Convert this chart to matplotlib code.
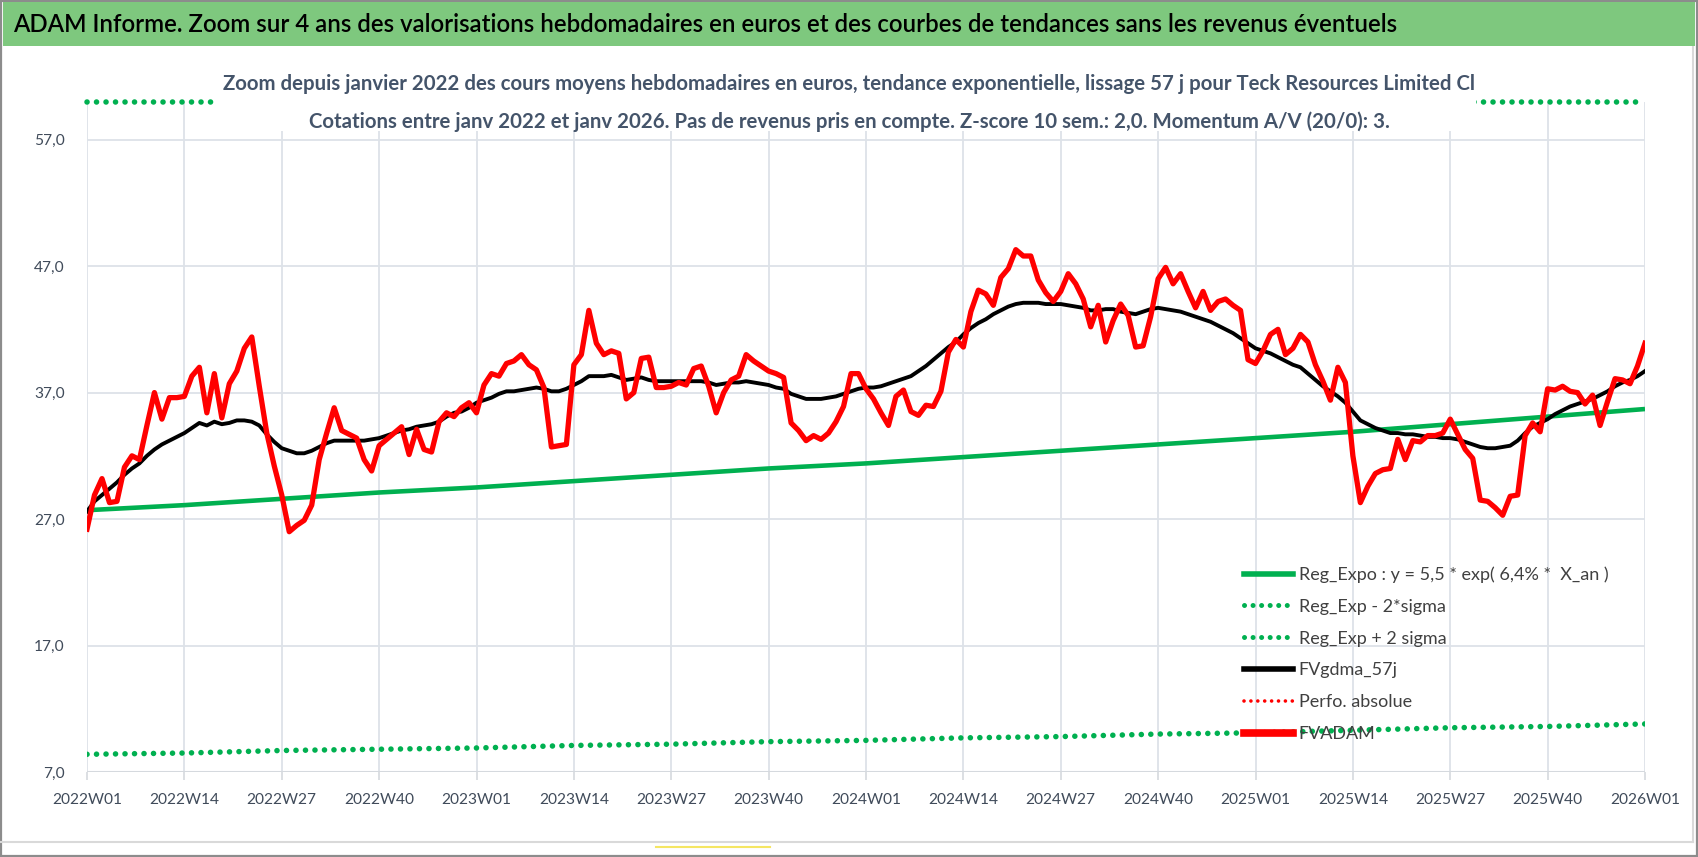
import matplotlib
matplotlib.use("Agg")
import matplotlib.pyplot as plt
from matplotlib.patches import Rectangle
from matplotlib.lines import Line2D
import numpy as np

plt.rcParams['font.family'] = ['Lato', 'DejaVu Sans']

# Données (semaines 2022W01 -> 2026W01)
fvadam = [26.2, 28.9, 30.2, 28.3, 28.4, 31.1, 32.0, 31.7, 34.4, 37.0,
          34.9, 36.6, 36.6, 36.7, 38.3, 39.0, 35.4, 38.5, 35.0, 37.7,
          38.7, 40.5, 41.4, 37.5, 33.8, 31.2, 28.9, 26.0, 26.5, 26.9,
          28.1, 31.7, 33.8, 35.8, 34.0, 33.7, 33.4, 31.7, 30.8, 32.8,
          33.3, 33.8, 34.3, 32.1, 34.1, 32.5, 32.3, 34.7, 35.4, 35.1,
          35.8, 36.2, 35.4, 37.6, 38.5, 38.3, 39.3, 39.5, 40.0, 39.2,
          38.8, 37.4, 32.7, 32.8, 32.9, 39.2, 40.0, 43.5, 40.9, 40.0,
          40.3, 40.1, 36.5, 37.0, 39.7, 39.8, 37.4, 37.4, 37.5, 37.8,
          37.6, 38.9, 39.1, 37.5, 35.4, 37.0, 38.0, 38.3, 40.0, 39.5,
          39.1, 38.7, 38.5, 38.2, 34.6, 34.0, 33.2, 33.6, 33.3, 33.8,
          34.7, 35.9, 38.5, 38.5, 37.3, 36.5, 35.4, 34.4, 36.7, 37.2,
          35.5, 35.2, 36.0, 35.9, 37.1, 40.2, 41.2, 40.6, 43.4, 45.1,
          44.8, 43.9, 46.1, 46.8, 48.3, 47.8, 47.8, 45.9, 44.9, 44.2,
          45.0, 46.4, 45.6, 44.4, 42.2, 43.9, 41.0, 42.7, 44.0, 43.1,
          40.6, 40.7, 43.0, 46.0, 46.9, 45.6, 46.4, 45.0, 43.7, 45.0,
          43.5, 44.2, 44.4, 43.9, 43.5, 39.6, 39.3, 40.3, 41.6, 42.0,
          40.0, 40.5, 41.6, 41.0, 39.2, 37.9, 36.4, 39.0, 37.8, 32.0,
          28.3, 29.6, 30.6, 30.9, 31.0, 33.3, 31.7, 33.2, 33.1, 33.6,
          33.6, 33.8, 34.9, 33.7, 32.5, 31.8, 28.5, 28.4, 27.9, 27.3,
          28.8, 28.9, 33.6, 34.6, 33.9, 37.3, 37.2, 37.5, 37.1, 37.0,
          36.1, 36.8, 34.4, 36.3, 38.1, 38.0, 37.7, 39.1, 40.9]

fvgdma_57j = [27.6, 28.4, 28.9, 29.4, 29.9, 30.5, 31.0, 31.4, 32.0, 32.5,
              32.9, 33.2, 33.5, 33.8, 34.2, 34.6, 34.4, 34.7, 34.5, 34.6,
              34.8, 34.8, 34.7, 34.4, 33.7, 33.1, 32.6, 32.4, 32.2, 32.2,
              32.4, 32.7, 33.0, 33.2, 33.2, 33.2, 33.2, 33.2, 33.3, 33.4,
              33.6, 33.8, 34.0, 34.1, 34.3, 34.4, 34.5, 34.7, 35.1, 35.4,
              35.5, 35.8, 36.2, 36.4, 36.6, 36.9, 37.1, 37.1, 37.2, 37.3,
              37.4, 37.3, 37.1, 37.1, 37.3, 37.6, 37.9, 38.3, 38.3, 38.3,
              38.4, 38.2, 38.0, 38.1, 38.2, 38.0, 37.9, 37.9, 37.9, 37.9,
              37.9, 37.9, 37.9, 37.8, 37.6, 37.7, 37.8, 37.8, 37.9, 37.8,
              37.7, 37.6, 37.4, 37.3, 36.9, 36.7, 36.5, 36.5, 36.5, 36.6,
              36.7, 36.9, 37.1, 37.3, 37.4, 37.4, 37.5, 37.7, 37.9, 38.1,
              38.3, 38.7, 39.1, 39.6, 40.1, 40.6, 41.0, 41.6, 42.1, 42.5,
              42.8, 43.2, 43.5, 43.8, 44.0, 44.1, 44.1, 44.1, 44.0, 44.0,
              44.0, 43.9, 43.8, 43.7, 43.5, 43.5, 43.6, 43.6, 43.4, 43.3,
              43.2, 43.4, 43.6, 43.7, 43.6, 43.5, 43.4, 43.2, 43.0, 42.8,
              42.6, 42.3, 42.0, 41.7, 41.3, 40.9, 40.5, 40.3, 40.1, 39.8,
              39.5, 39.2, 39.0, 38.5, 38.0, 37.5, 37.1, 36.7, 36.2, 35.5,
              34.8, 34.5, 34.2, 34.0, 33.8, 33.8, 33.7, 33.7, 33.6, 33.5,
              33.5, 33.4, 33.4, 33.3, 33.1, 32.9, 32.7, 32.6, 32.6, 32.7,
              32.8, 33.2, 33.8, 34.3, 34.6, 34.9, 35.3, 35.6, 35.9, 36.1,
              36.3, 36.5, 36.8, 37.1, 37.5, 37.8, 38.0, 38.3, 38.7]

# Régression exponentielle et bandes, lues aux semaines des étiquettes
tick_weeks = list(range(0, 209, 13))
reg_expo = [27.7, 28.1, 28.6, 29.1, 29.5, 30.0, 30.5, 31.0, 31.4,
            31.9, 32.4, 32.9, 33.4, 33.9, 34.5, 35.1, 35.7]
reg_moins_2s = [8.4, 8.5, 8.7, 8.8, 8.9, 9.1, 9.2, 9.4, 9.5,
                9.7, 9.8, 10.0, 10.1, 10.3, 10.5, 10.6, 10.8]
reg_plus_2s = [91, 93, 94, 96, 97, 99, 101, 102, 104,
               105, 107, 108, 110, 112, 113, 115, 118]

tick_labels = ['2022W01', '2022W14', '2022W27', '2022W40', '2023W01', '2023W14',
               '2023W27', '2023W40', '2024W01', '2024W14', '2024W27', '2024W40',
               '2025W01', '2025W14', '2025W27', '2025W40', '2026W01']
y_ticks = [7, 17, 27, 37, 47, 57]

titre = ('ADAM Informe. Zoom sur 4 ans des valorisations hebdomadaires en euros '
         'et des courbes de tendances sans les revenus éventuels')
sous_titre_1 = ('Zoom depuis janvier 2022 des cours moyens hebdomadaires en euros, tendance '
                'exponentielle, lissage 57 j pour Teck Resources Limited Cl')
sous_titre_2 = ('Cotations entre janv 2022 et janv 2026. Pas de revenus pris en compte. '
                'Z-score 10 sem.: 2,0. Momentum A/V (20/0): 3.')

W, H = 1698, 857
fig = plt.figure(figsize=(W / 100, H / 100), dpi=100)
renderer = fig.canvas.get_renderer()


def ajuste(txt, largeur):
    # règle la taille de police pour obtenir la largeur voulue (pixels)
    for _ in range(3):
        w = txt.get_window_extent(renderer).width
        txt.set_fontsize(txt.get_fontsize() * largeur / w)


ymin, ymax = 7, 60
ax = fig.add_axes([87 / W, 1 - 772 / H, (1645 - 87) / W, (772 - 101.7) / H])
semaines = np.arange(len(fvadam))
pointille = (0, (0.01, 1.7))

ax.plot(tick_weeks, reg_expo, color='#00b050', lw=3.3, solid_capstyle='butt', zorder=3)
ax.plot(tick_weeks, reg_moins_2s, color='#00b050', lw=4.0, ls=pointille,
        dash_capstyle='round', zorder=3)
ax.plot(tick_weeks, np.minimum(reg_plus_2s, ymax), color='#00b050', lw=4.0,
        ls=pointille, dash_capstyle='round', zorder=3, clip_on=False)
ax.plot(semaines, fvgdma_57j, color='black', lw=2.8, zorder=4)
ax.plot(semaines, fvadam, color='#ff0000', lw=3.8, zorder=5)

ax.set_xlim(0, 208)
ax.set_ylim(ymin, ymax)
ax.set_xticks(tick_weeks)
ax.set_xticklabels(tick_labels)
ax.set_yticks(y_ticks)
ax.set_yticklabels([f"{v:.1f}".replace('.', ',') for v in y_ticks])
ax.grid(True, color='#dde2e8', lw=1.3)
ax.set_axisbelow(True)
for s in ax.spines.values():
    s.set_visible(False)
ax.axhline(ymin, color='#d5d9de', lw=2.2, zorder=1)
ax.tick_params(axis='x', length=6, width=1.2, color='#d5d9de', pad=9,
               labelsize=13, labelcolor='#404b5a')
ax.tick_params(axis='y', length=0, pad=16, labelsize=13, labelcolor='#404b5a')
ajuste(ax.get_xticklabels()[0], 70)
taille_ticks = ax.get_xticklabels()[0].get_fontsize()
ax.tick_params(axis='both', labelsize=taille_ticks)

# Légende
handles = [
    Line2D([], [], color='#00b050', lw=4),
    Line2D([], [], color='#00b050', lw=3.6, ls=pointille, dash_capstyle='round'),
    Line2D([], [], color='#00b050', lw=3.6, ls=pointille, dash_capstyle='round'),
    Line2D([], [], color='black', lw=4),
    Line2D([], [], color='#ff0000', lw=2.6, ls=(0, (0.01, 1.9)), dash_capstyle='round'),
    Line2D([], [], color='#ff0000', lw=5.5),
]
labels = ['Reg_Expo : y = 5,5 * exp( 6,4% *  X_an )', 'Reg_Exp - 2*sigma',
          'Reg_Exp + 2 sigma', 'FVgdma_57j', 'Perfo. absolue', 'FVADAM']
t_test = fig.text(0, 0, labels[0], fontsize=13)
ajuste(t_test, 310)
taille_leg = t_test.get_fontsize()
t_test.remove()
fs_px = taille_leg * 100 / 72
leg = fig.legend(handles, labels, loc='upper left',
                 bbox_to_anchor=(1230 / W, 1 - 552 / H), frameon=False,
                 fontsize=taille_leg, handlelength=49 / fs_px,
                 handletextpad=0.3, labelspacing=0.88, borderpad=0.3)
for t in leg.get_texts():
    t.set_color('#404040')
leg.set_zorder(6)

# Bandeau de titre
fig.patches.append(Rectangle((3 / W, 1 - 46 / H), (W - 6) / W, 44 / H,
                             transform=fig.transFigure, facecolor='#7ec87e',
                             edgecolor='none', zorder=2))
t = fig.text(13 / W, 1 - 25 / H, titre, fontsize=21, fontweight='semibold',
             color='black', va='center', ha='left', zorder=3)
ajuste(t, 1381)

# Sous-titre sur fond blanc
fig.patches.append(Rectangle((217 / W, 1 - 131 / H), (1476 - 217) / W, 75 / H,
                             transform=fig.transFigure, facecolor='white',
                             edgecolor='none', zorder=2))
t1 = fig.text(0.5, 1 - 84 / H, sous_titre_1, fontsize=15, fontweight='bold',
              color='#44546a', ha='center', va='center', zorder=3)
ajuste(t1, 1251)
t2 = fig.text(0.5, 1 - 122 / H, sous_titre_2, fontsize=t1.get_fontsize(),
              fontweight='bold', color='#44546a', ha='center', va='center', zorder=3)

# Cadres
fig.add_artist(Line2D([0, 1693 / W], [1 - 842 / H] * 2, transform=fig.transFigure,
                      color='#d9d9d9', lw=1.5))
fig.add_artist(Line2D([1693 / W] * 2, [1 - 46 / H, 1 - 842 / H], transform=fig.transFigure,
                      color='#d9d9d9', lw=1.5))
fig.add_artist(Rectangle((0.0006, 0.001), 0.9988, 0.998, transform=fig.transFigure,
                         facecolor='none', edgecolor='#8c8c8c', lw=1.6))
fig.add_artist(Line2D([656 / W, 770 / W], [1 - 847 / H] * 2, transform=fig.transFigure,
                      color='#f5e663', lw=1.5))

fig.savefig('out.png', dpi=100)
